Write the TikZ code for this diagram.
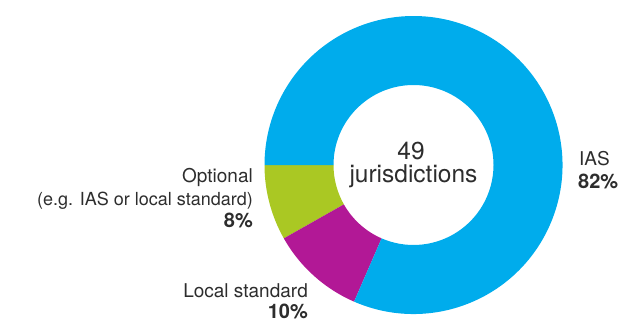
\documentclass[tikz,border=0pt]{standalone}
\usepackage{fontspec}
\setmainfont{TeX Gyre Heros}
\usetikzlibrary{calc}
\definecolor{iasblue}{RGB}{0,172,236}
\definecolor{locmag}{RGB}{178,24,150}
\definecolor{optgreen}{RGB}{170,200,35}
\definecolor{txt}{RGB}{45,45,45}
\tikzset{
  lbl/.style={inner sep=0pt, text=txt, font=\fontsize{19}{19}\selectfont},
  sublbl/.style={inner sep=0pt, text=txt, font=\fontsize{18}{18}\selectfont},
  pct/.style={inner sep=0pt, text=txt, font=\fontsize{20}{20}\selectfont\bfseries},
  ctr/.style={inner sep=0pt, text=txt, font=\fontsize{24.5}{24.5}\selectfont},
}
\newcommand{\wedgeseg}[3]{%
  \fill[#3] ($(c)+(#1:149pt)$) arc[start angle=#1, end angle=#2, radius=149pt]
    -- ($(c)+(#2:80pt)$) arc[start angle=#2, end angle=#1, radius=80pt] -- cycle;}
\begin{document}
\begin{tikzpicture}[x=1pt,y=1pt]
\useasboundingbox (0,0) rectangle (623,322);
\coordinate (c) at (413.5,157);
\wedgeseg{180}{209.5}{optgreen}
\wedgeseg{209.5}{246.5}{locmag}
\wedgeseg{246.5}{540}{iasblue}
% centre
\node[ctr, anchor=base] (n49) at (411,163) {49};
\node[ctr, anchor=base] (jur) at (413.5,140) {jurisdictions};
% IAS
\node[lbl, anchor=base west] (ias) at (579,157) {IAS};
\node[pct, anchor=base west] (iaspct) at (578,134) {82\%};
% Optional
\node[lbl, anchor=base east] (opt) at (253,140) {Optional};
\node[sublbl, anchor=base east] (optsub) at (253,117) {(e.g. IAS or local standard)};
\node[pct, anchor=base east] (optpct) at (253,95) {8\%};
% Local standard
\node[lbl, anchor=base east] (loc) at (308,25) {Local standard};
\node[pct, anchor=base east] (locpct) at (308,4) {10\%};
\end{tikzpicture}
\end{document}
